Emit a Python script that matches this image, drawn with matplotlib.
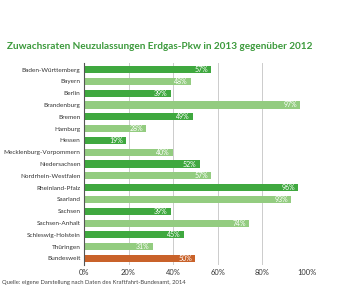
import matplotlib
matplotlib.use('Agg')
import matplotlib.pyplot as plt
import numpy as np

plt.rcParams['font.family'] = ['Lato', 'DejaVu Sans']

# Daten
laender = ['Baden-Württemberg', 'Bayern', 'Berlin', 'Brandenburg', 'Bremen',
           'Hamburg', 'Hessen', 'Mecklenburg-Vorpommern', 'Niedersachsen',
           'Nordrhein-Westfalen', 'Rheinland-Pfalz', 'Saarland', 'Sachsen',
           'Sachsen-Anhalt', 'Schleswig-Holstein', 'Thüringen', 'Bundesweit']
werte = [57, 48, 39, 97, 49, 28, 19, 40, 52, 57, 96, 93, 39, 74, 45, 31, 50]
xticks = [0, 20, 40, 60, 80, 100]

dunkel = '#3fa83f'
hell = '#93cc80'
orange = '#c9622a'
farben = [dunkel if i % 2 == 0 else hell for i in range(len(laender) - 1)] + [orange]

fig = plt.figure(figsize=(3.63, 2.88), dpi=100)
ax = fig.add_axes([0.231, 0.080, 0.615, 0.701])

y = np.arange(len(laender))
ax.barh(y, werte, height=0.6, color=farben, zorder=2)
for yi, v in zip(y, werte):
    ax.text(v - 1.5, yi, f'{v}%', color='white', fontsize=5, ha='right', va='center', zorder=3)

ax.set_ylim(len(laender) - 0.45, -0.55)
ax.set_xlim(0, 100)
ax.set_yticks(y)
ax.set_yticklabels(laender, fontsize=4.6, color='#333333')
ax.set_xticks(xticks)
ax.set_xticklabels([f'{t}%' for t in xticks], fontsize=5.4, color='#333333')
ax.tick_params(axis='y', length=0, pad=2.5)
ax.tick_params(axis='x', length=0, pad=3)
ax.xaxis.grid(True, color='#cccccc', linewidth=0.7, zorder=0)
for s in ['top', 'right', 'bottom']:
    ax.spines[s].set_visible(False)
ax.spines['left'].set_color('#555555')
ax.spines['left'].set_linewidth(0.8)

fig.text(0.018, 0.84, 'Zuwachsraten Neuzulassungen Erdgas-Pkw in 2013 gegenüber 2012',
         fontsize=7.2, color='#3c9a3c', fontweight='bold', va='center')
fig.text(0.005, 0.02, 'Quelle: eigene Darstellung nach Daten des Kraftfahrt-Bundesamt, 2014',
         fontsize=4.2, color='#444444', va='center')

plt.savefig('out.png', dpi=100)
plt.close('all')
